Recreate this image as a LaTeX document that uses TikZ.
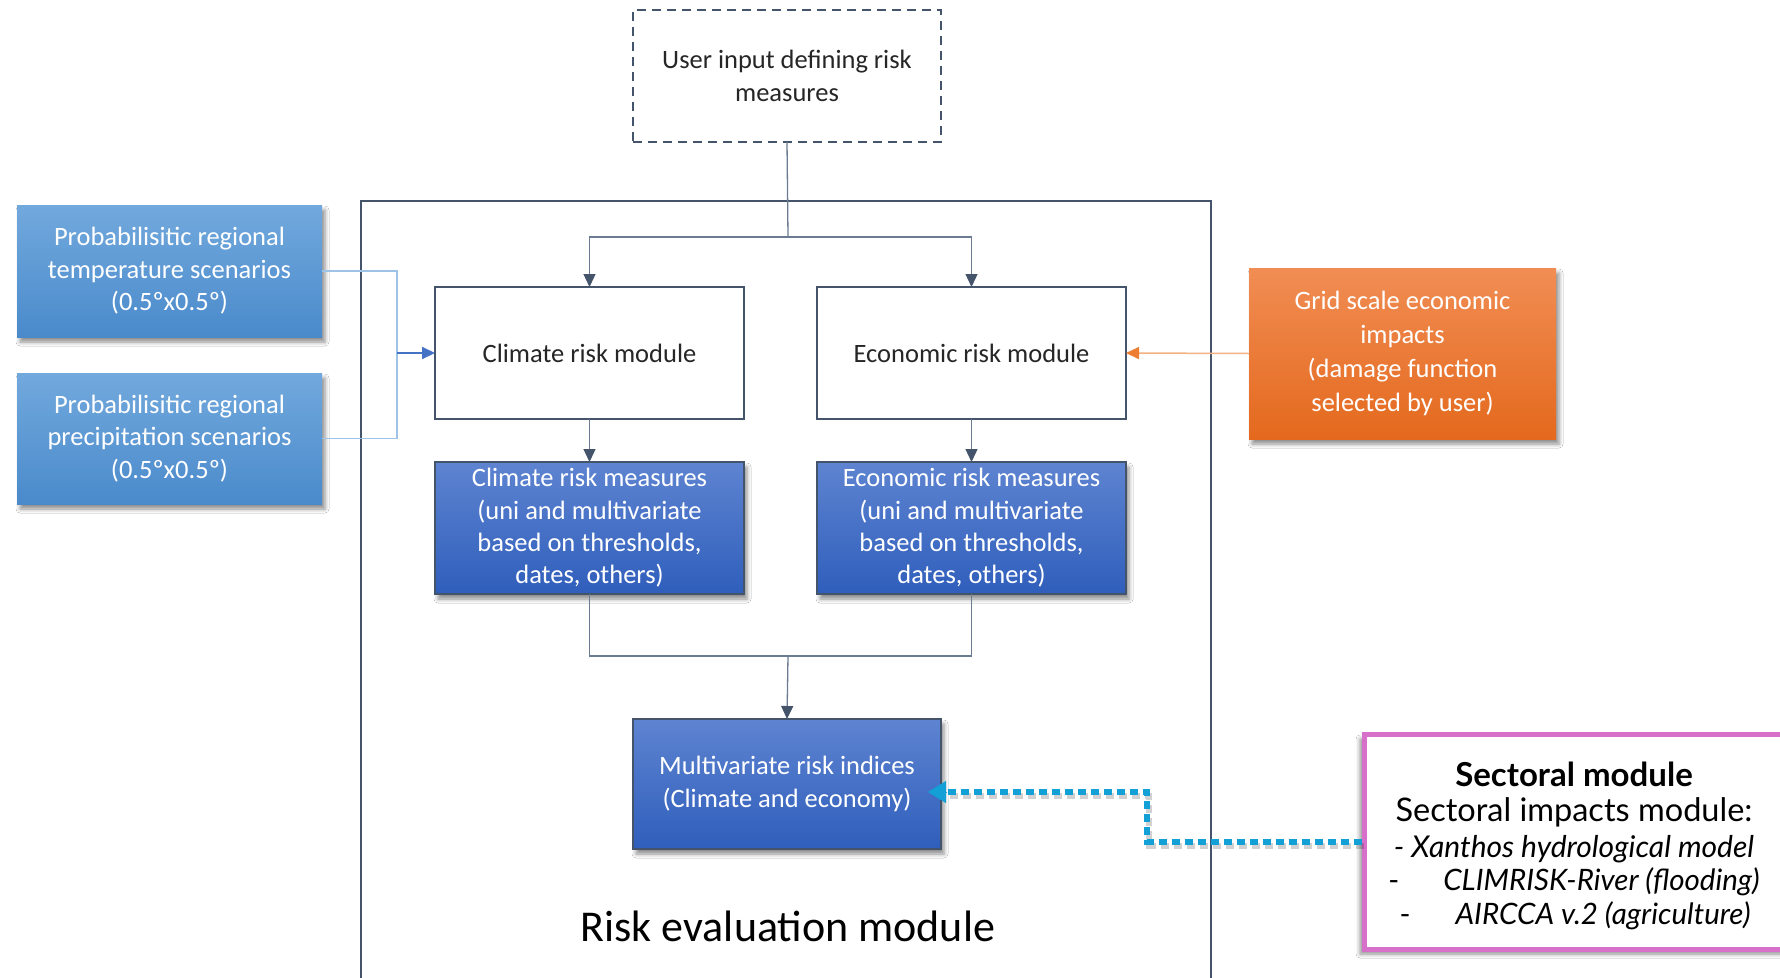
\documentclass[tikz,border=0pt]{standalone}
\usepackage{fontspec}
\setmainfont{Carlito}
\newfontfamily\aptos{Lato}
\usetikzlibrary{arrows.meta,shadows.blur}
\definecolor{dk}{HTML}{44546A}
\definecolor{lnk}{HTML}{6B7B92}
\definecolor{txt}{HTML}{262626}
\definecolor{ltblue}{HTML}{9DC3E6}
\definecolor{acc}{HTML}{4472C4}
\definecolor{orl}{HTML}{F4B183}
\definecolor{ora}{HTML}{ED7D31}
\definecolor{mag}{HTML}{D670C9}
\definecolor{cyan1}{HTML}{12A0D7}
\definecolor{lbtop}{HTML}{72A9DD}
\definecolor{lbbot}{HTML}{4A8ACB}
\definecolor{dbtop}{HTML}{5E84D1}
\definecolor{dbbot}{HTML}{2F5EBB}
\definecolor{ortop}{HTML}{F18D54}
\definecolor{orbot}{HTML}{E4691D}
\tikzset{
  base/.style={font=\fontsize{26.5}{32.4}\selectfont, align=center, inner sep=0pt, outer sep=0pt},
  shad/.style={blur shadow={shadow xshift=3pt, shadow yshift=-5pt, shadow blur radius=4pt, shadow opacity=45}},
  modbox/.style={base, draw=dk, line width=2pt, fill=white, text=txt, minimum width=309pt, minimum height=132pt},
  measbox/.style={base, shad, draw=dk, line width=2pt, top color=dbtop, bottom color=dbbot, text=white, minimum width=309pt, minimum height=132pt},
  scenbox/.style={base, shad, top color=lbtop, bottom color=lbbot, text=white, minimum width=305pt, minimum height=132pt},
  inbox/.style={base, draw=dk, line width=2pt, dash pattern=on 9pt off 6pt, text=txt, minimum width=308pt, minimum height=132pt},
  lnkline/.style={lnk, line width=1.3pt},
  arr/.style={lnkline, -{Triangle[width=12pt,length=13pt,color=dk]}},
  sectxt/.style={inner sep=0pt, text=black},
  dotline/.style={line width=6pt, dash pattern=on 8pt off 5pt},
}
\begin{document}
\begin{tikzpicture}[x=1pt,y=-1pt]
\useasboundingbox (0,0) rectangle (1780,977);
\clip (0,0) rectangle (1780,977);
\fill[white] (0,0) rectangle (1780,977);
% frame of risk evaluation module
\draw[dk, line width=2pt] (361,995) -- (361,201) -- (1211,201) -- (1211,995);

% nodes
\node[inbox] (ui) at (787,76) {User input defining risk\\measures};
\node[modbox] (crm) at (589.5,353) {Climate risk module};
\node[modbox] (erm) at (971.5,353) {Economic risk module};
\node[measbox] (crms) at (589.5,528) {Climate risk measures\\(uni and multivariate\\based on thresholds,\\dates, others)};
\node[measbox] (erms) at (971.5,528) {Economic risk measures\\(uni and multivariate\\based on thresholds,\\dates, others)};
\node[measbox, minimum width=308pt, minimum height=130pt] (mri) at (787,784) {Multivariate risk indices\\(Climate and economy)};
\node[base, text=black, font=\fontsize{44}{50}\selectfont] (title) at (788,926) {Risk evaluation module};
\node[scenbox] (temp) at (169.5,271) {Probabilisitic regional\\temperature scenarios\\(0.5ºx0.5º)};
\node[scenbox, minimum height=131pt] (prec) at (169.5,438.5) {Probabilisitic regional\\precipitation scenarios\\(0.5ºx0.5º)};
\node[base, shad, top color=ortop, bottom color=orbot, text=white, minimum width=307pt, minimum height=171pt, font=\fontsize{26.5}{34}\selectfont] (grid) at (1402.5,353.5) {Grid scale economic\\impacts\\(damage function\\selected by user)};
\node[draw=mag, line width=5pt, fill=white, minimum width=426pt, minimum height=215pt, inner sep=0pt,
      blur shadow={shadow xshift=-4pt, shadow yshift=-5pt, shadow blur radius=4pt, shadow opacity=45}] (sect) at (1577,841.5) {};
\node[sectxt, font=\aptos\fontsize{33}{38}\selectfont\bfseries] (s1) at (1574,774) {Sectoral module};
\node[sectxt, font=\aptos\fontsize{32.5}{38}\selectfont] (s2) at (1574,812) {Sectoral impacts module:};
\node[sectxt, font=\aptos\fontsize{30}{34}\selectfont] (s3) at (1574,849) {\itshape - Xanthos hydrological model};
\node[sectxt, font=\aptos\fontsize{29.5}{34}\selectfont] (s4) at (1574,882) {-\hspace{44pt}\itshape CLIMRISK-River (flooding)};
\node[sectxt, font=\aptos\fontsize{29.5}{34}\selectfont] (s5) at (1575,916) {-\hspace{45pt}\itshape AIRCCA v.2 (agriculture)};

% junction coordinates
\coordinate (j1) at (788,237);
\coordinate (j2) at (788,656);
\coordinate (j3) at (397,353);
\coordinate (d1) at (1147,792);

% connectors
\draw[lnkline] (ui.south) -- (j1);
\draw[arr] (j1) -| (crm.north);
\draw[arr] (j1) -| (erm.north);
\draw[arr] (crm.south) -- (crms.north);
\draw[arr] (erm.south) -- (erms.north);
\draw[lnkline] (crms.south) |- (j2);
\draw[lnkline] (erms.south) |- (j2);
\draw[arr] (j2) -- (mri.north);

\draw[ltblue, line width=1.5pt] (temp.east) -| (j3);
\draw[ltblue, line width=1.5pt] (prec.east) -| (j3);
\draw[acc, line width=2pt, -{Triangle[width=12pt,length=13pt]}] (j3) -- (crm.west);

\draw[orl, line width=1.5pt, -{Triangle[width=12pt,length=13pt,color=ora]}] (grid.west) -- (erm.east);

% dotted connector (with faint shadow)
\draw[dotline, black, opacity=0.18, transform canvas={shift={(2pt,-4pt)}}]
  (sect.west) -| (d1) -- ([xshift=-4pt,yshift=-8pt]mri.east);
\draw[dotline, cyan1]
  (sect.west) -| (d1) -- ([xshift=-4pt,yshift=-8pt]mri.east);
\draw[cyan1, line width=1pt, -{Triangle[width=22pt,length=18pt]}]
  ([xshift=6pt,yshift=-8pt]mri.east) -- ([xshift=-13pt,yshift=-8pt]mri.east);
\end{tikzpicture}
\end{document}
